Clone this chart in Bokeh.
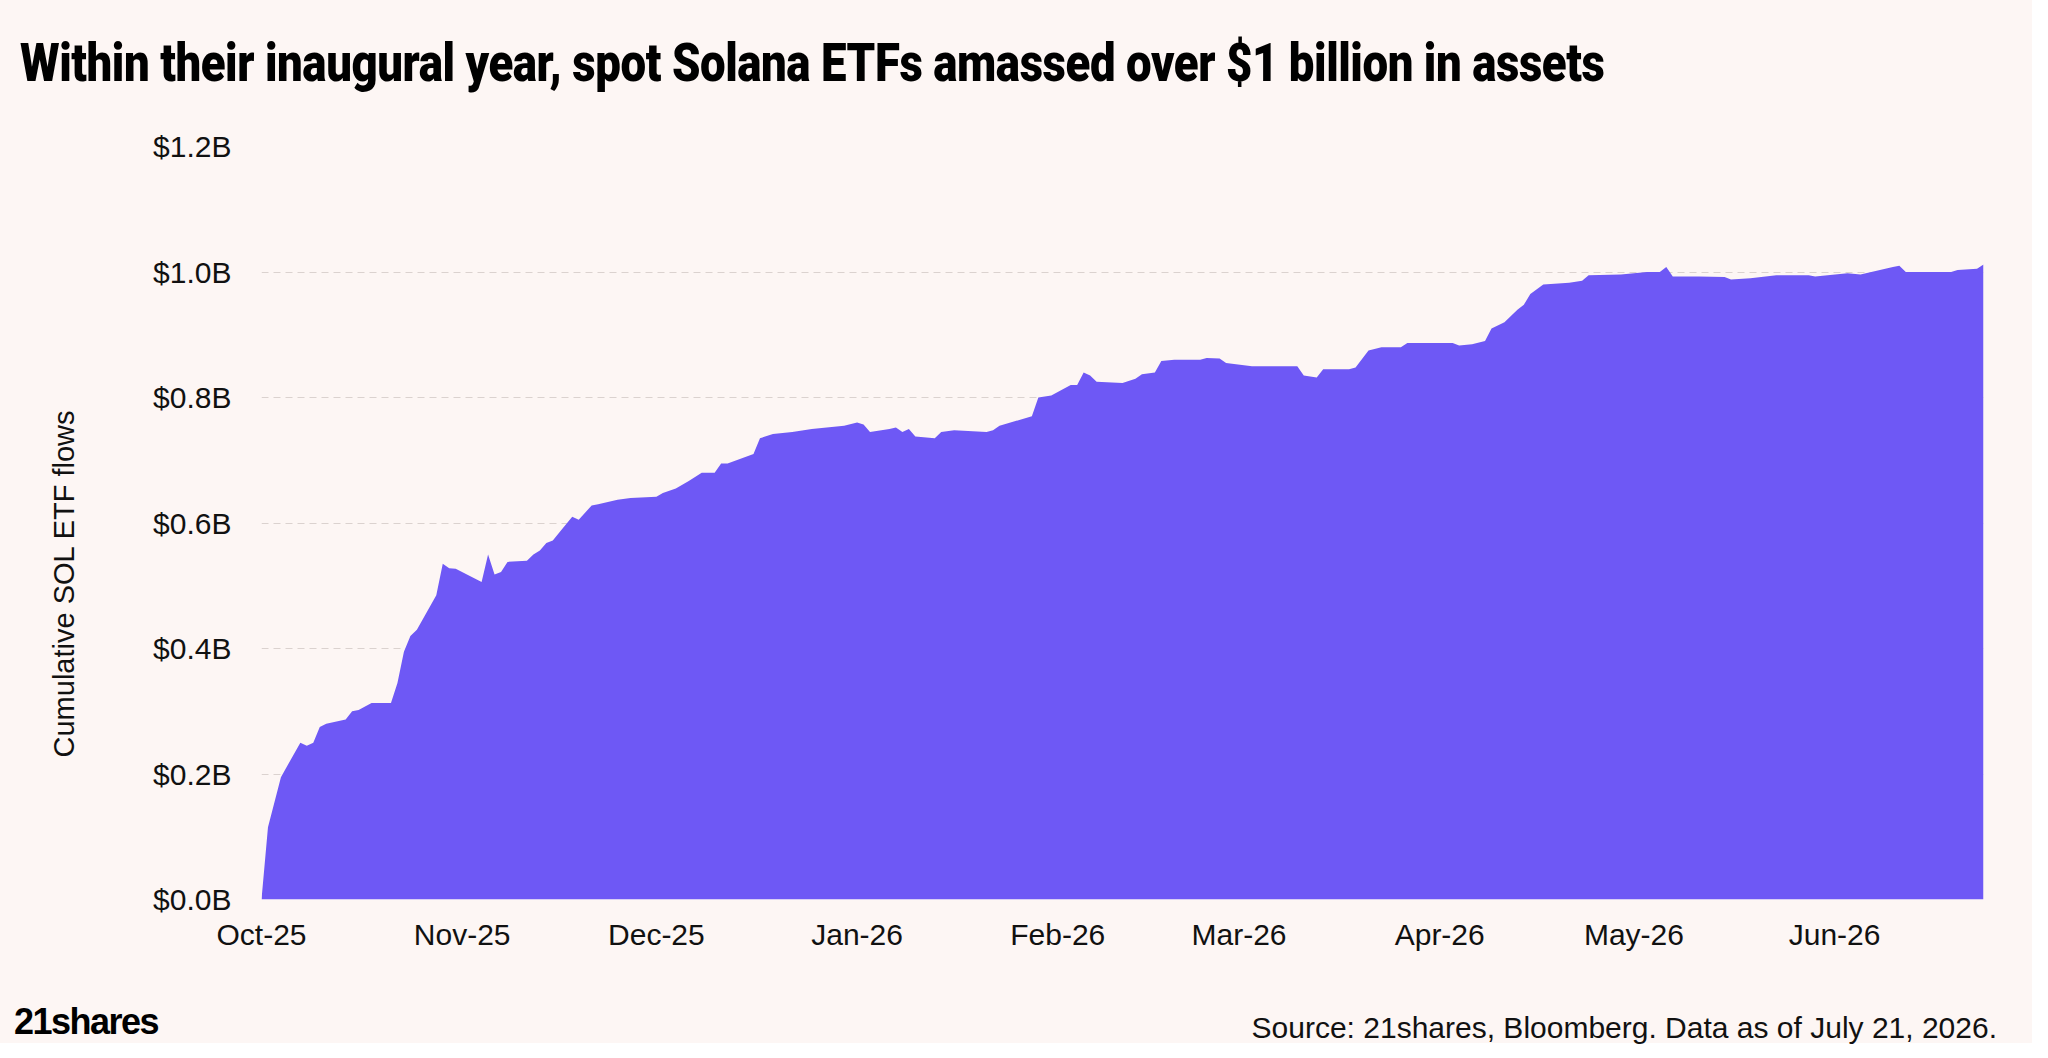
import pandas as pd
from bokeh.plotting import figure
from bokeh.layouts import column
from bokeh.models import Div, FixedTicker, MonthsTicker, DatetimeTickFormatter, Range1d, ColumnDataSource
from bokeh.embed import file_html
from bokeh.resources import INLINE

dates = ["2025-10-01","2025-10-02","2025-10-04","2025-10-07","2025-10-08","2025-10-09","2025-10-10","2025-10-11",
"2025-10-14","2025-10-15","2025-10-16","2025-10-18","2025-10-21","2025-10-22","2025-10-23","2025-10-24","2025-10-25",
"2025-10-28","2025-10-29","2025-10-30","2025-10-31","2025-11-04","2025-11-05","2025-11-06","2025-11-07","2025-11-08",
"2025-11-11","2025-11-12","2025-11-13","2025-11-14","2025-11-15","2025-11-16","2025-11-18","2025-11-19","2025-11-21",
"2025-11-22","2025-11-25","2025-11-27","2025-12-01","2025-12-02","2025-12-04","2025-12-06","2025-12-08","2025-12-10",
"2025-12-11","2025-12-12","2025-12-16","2025-12-17","2025-12-19","2025-12-22","2025-12-25","2025-12-30","2026-01-01",
"2026-01-02","2026-01-03","2026-01-06","2026-01-07","2026-01-08","2026-01-09","2026-01-10","2026-01-13","2026-01-14",
"2026-01-16","2026-01-21","2026-01-22","2026-01-23","2026-01-28","2026-01-29","2026-01-31","2026-02-03","2026-02-04",
"2026-02-05","2026-02-06","2026-02-07","2026-02-11","2026-02-13","2026-02-14","2026-02-16","2026-02-17","2026-02-19",
"2026-02-23","2026-02-24","2026-02-26","2026-02-27","2026-03-03","2026-03-10","2026-03-11","2026-03-13","2026-03-14",
"2026-03-18","2026-03-19","2026-03-21","2026-03-23","2026-03-26","2026-03-27","2026-04-03","2026-04-04","2026-04-06",
"2026-04-08","2026-04-09","2026-04-11","2026-04-13","2026-04-14","2026-04-15","2026-04-17","2026-04-21","2026-04-23",
"2026-04-24","2026-04-29","2026-05-03","2026-05-05","2026-05-06","2026-05-07","2026-05-11","2026-05-15","2026-05-16",
"2026-05-19","2026-05-23","2026-05-28","2026-05-29","2026-06-03","2026-06-05","2026-06-10","2026-06-11","2026-06-12",
"2026-06-15","2026-06-19","2026-06-20","2026-06-23","2026-06-24"]
flows_b = [0,.115,.195,.25,.245,.25,.275,.28,.287,.30,.302,.313,.313,.345,.395,.42,.43,
.485,.535,.528,.527,.506,.55,.518,.522,.538,
.54,.55,.556,.568,.572,.585,.61,.605,.628,
.63,.637,.64,.642,.648,.655,.667,.68,.68,
.695,.695,.71,.735,.742,.745,.75,.755,.76,
.757,.745,.75,.752,.745,.75,.738,.735,.745,
.748,.745,.748,.755,.77,.80,.803,.82,.82,
.84,.835,.825,.823,.83,.837,.84,.858,.86,
.86,.863,.862,.855,.85,.85,.835,.832,.845,
.845,.848,.875,.88,.88,.887,.887,.883,.885,
.89,.91,.92,.94,.948,.965,.98,.983,.986,
.995,.996,1.0,1.0,1.008,.993,.993,.992,.988,
.99,.995,.995,.993,.998,.996,1.008,1.01,1.0,
1.0,1.0,1.003,1.005,1.012]
y_ticks = [0, 0.2, 0.4, 0.6, 0.8, 1.0, 1.2]
y_labels = ["$0.0B", "$0.2B", "$0.4B", "$0.6B", "$0.8B", "$1.0B", "$1.2B"]
title_text = "Within their inaugural year, spot Solana ETFs amassed over $1 billion in assets"
source_text = "Source: 21shares, Bloomberg. Data as of July 21, 2026."
y_axis_title = "Cumulative SOL ETF flows"

BG = "#fdf6f4"
W = 2032
x = pd.to_datetime(dates)
src = ColumnDataSource(dict(x=x, y=flows_b, z=[0]*len(flows_b)))

p = figure(width=W, height=861, output_backend="svg", toolbar_location=None, x_axis_type="datetime",
           min_border_left=261, min_border_right=49, min_border_top=48, min_border_bottom=60,
           background_fill_color=BG, border_fill_color=BG, outline_line_color=None, margin=0)
p.x_range = Range1d(pd.Timestamp("2025-10-01"), pd.Timestamp("2026-06-24"))
p.y_range = Range1d(0, 1.2)
p.varea(x="x", y1="z", y2="y", source=src, fill_color="#6e58f5")

p.yaxis.ticker = FixedTicker(ticks=y_ticks)
p.yaxis.major_label_overrides = {t: l for t, l in zip(y_ticks, y_labels)}
p.xaxis.ticker = MonthsTicker(months=list(range(12)))
p.xaxis.formatter = DatetimeTickFormatter(months="%b-%y", days="%b-%y")
for ax in (p.xaxis[0], p.yaxis[0]):
    ax.axis_line_color = None
    ax.major_tick_line_color = None
    ax.minor_tick_line_color = None
    ax.major_label_text_font = "Liberation Sans"
    ax.major_label_text_font_size = "30px"
    ax.major_label_text_color = "#111111"
p.yaxis.major_label_standoff = 24
p.xaxis.major_label_standoff = 12
p.yaxis.axis_label = y_axis_title + "\u00a0" * 15
p.yaxis.axis_label_text_font = "Liberation Sans"
p.yaxis.axis_label_text_font_style = "normal"
p.yaxis.axis_label_text_font_size = "29px"
p.yaxis.axis_label_text_color = "#111111"
p.yaxis.axis_label_standoff = 70
p.xgrid.grid_line_color = None
p.ygrid.grid_line_color = "#dbd2cf"
p.ygrid.grid_line_dash = "7 5"

title = Div(text=f"<div style='transform:scaleX(0.86);transform-origin:left;white-space:nowrap'>{title_text}</div>",
            width=W, height=98, margin=0,
            styles={"background-color": BG, "font-family": "Roboto", "font-weight": "900",
                    "font-size": "53px", "color": "#000", "padding": "37px 0 0 20px", "box-sizing": "border-box",
                    "line-height": "1", "width": f"{W}px", "height": "98px", "letter-spacing": "-0.5px"})
footer = Div(text=f"<div style='display:flex;justify-content:space-between;align-items:flex-end;width:{W}px;height:84px;box-sizing:border-box;padding:0 35px 0 14px'>"
                  f"<span style='font-family:Liberation Sans;font-weight:bold;font-size:36px;letter-spacing:-1.5px;line-height:1;margin-bottom:3px'>21shares</span>"
                  f"<span style='font-family:Liberation Sans;font-size:30px;color:#111;line-height:1'>{source_text}</span></div>",
             width=W, height=84, margin=0,
             styles={"background-color": BG, "width": f"{W}px", "height": "84px"})

layout = column(title, p, footer, spacing=0, styles={"background-color": BG})
open("out.html", "w").write(file_html(layout, INLINE))
